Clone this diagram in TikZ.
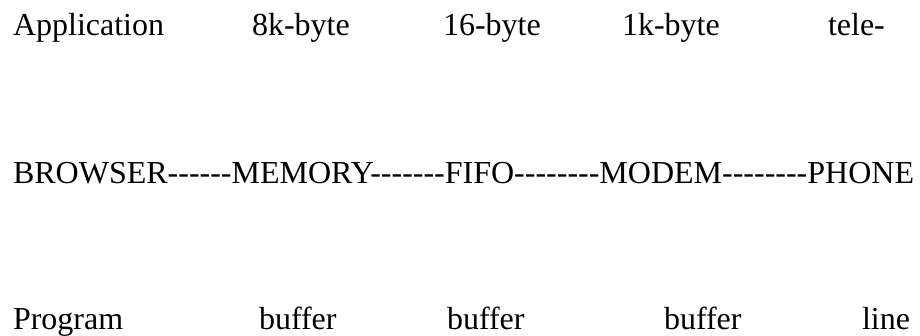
\documentclass[tikz,border=0pt]{standalone}
\usepackage{fontspec}
\setmainfont{Liberation Serif}[Ligatures=TeXOff]
\begin{document}
\begin{tikzpicture}[x=1pt,y=1pt,
  word/.style={anchor=base west,inner sep=0pt,outer sep=0pt,font=\fontsize{32}{38}\selectfont}]
\useasboundingbox (0,0) rectangle (920,335);
% top row
\node[word] (app)  at (13,299) {Application};
\node[word] (m8k)  at (252,299) {8k-byte};
\node[word] (f16)  at (443,299) {16-byte};
\node[word] (m1k)  at (622,299) {1k-byte};
\node[word] (tele) at (828,299) {tele-};
% middle row: the hyphens are typed, not drawn
\node[word] (chain) at (13,152) {BROWSER------MEMORY-------FIFO--------MODEM--------PHONE};
% bottom row
\node[word] (prog) at (13,6) {Program};
\node[word] (buf1) at (259,6) {buffer};
\node[word] (buf2) at (447,6) {buffer};
\node[word] (buf3) at (664,6) {buffer};
\node[word] (line) at (862,6) {line};
\end{tikzpicture}
\end{document}
